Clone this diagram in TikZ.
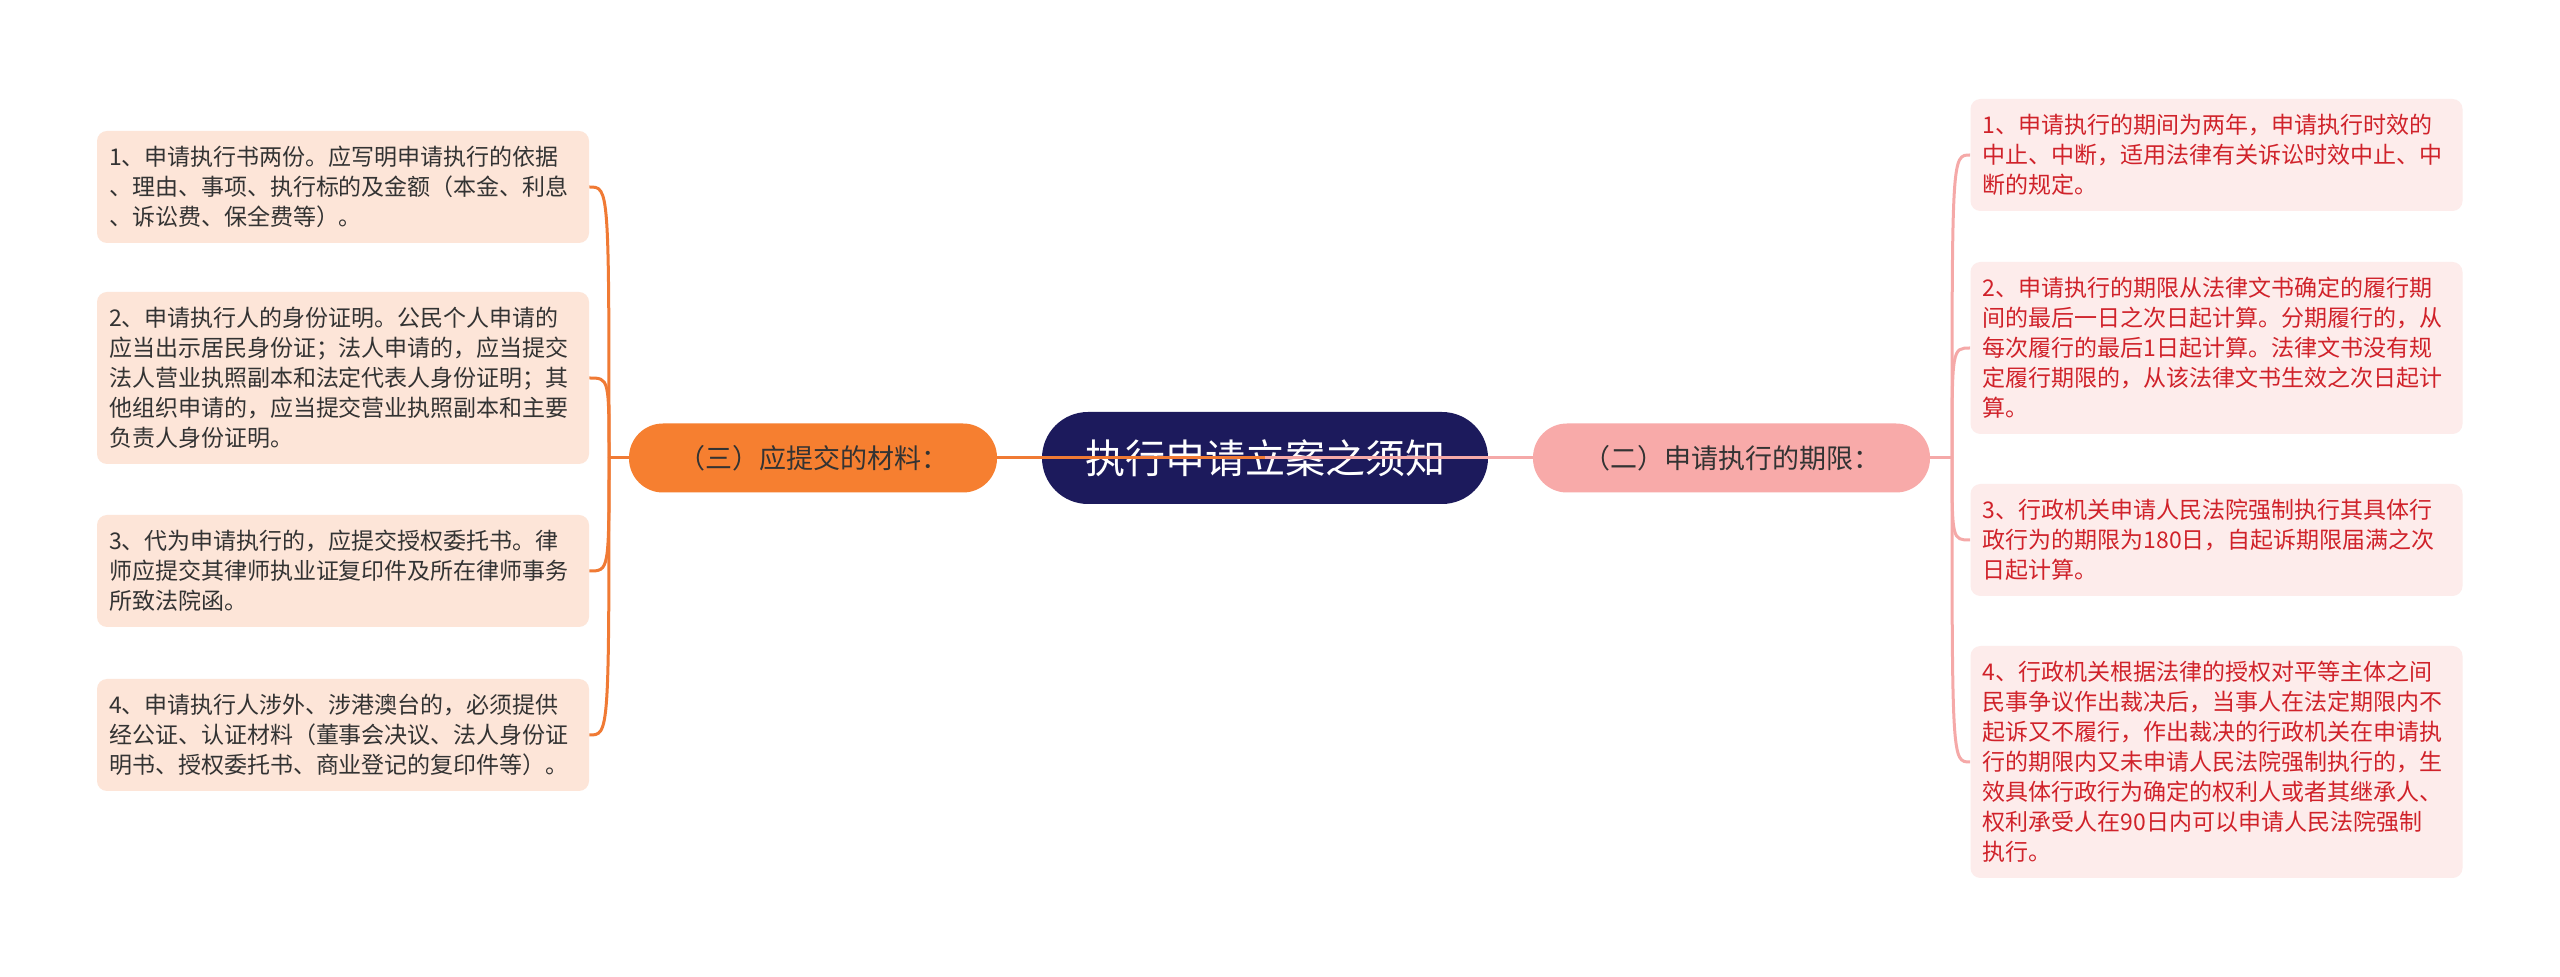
\documentclass[tikz,border=0pt]{standalone}
\usepackage{fontspec}
\setmainfont{Noto Sans CJK SC}
\newfontfamily\cjk{Noto Sans CJK SC}
\definecolor{navy}{HTML}{1C1A5C}
\definecolor{orangeb}{HTML}{F67F30}
\definecolor{pinkb}{HTML}{F8AAA9}
\definecolor{leafL}{HTML}{FDE5D8}
\definecolor{leafR}{HTML}{FDECEB}
\definecolor{lineO}{HTML}{F07A34}
\definecolor{lineP}{HTML}{F5A9A8}
\definecolor{redtext}{HTML}{D0222A}
\definecolor{darktext}{HTML}{333333}
\tikzset{
  leafbase/.style={anchor=center, align=left, text width=234pt, inner xsep=6pt, inner ysep=0pt,
     rounded corners=5pt, font=\cjk\fontsize{11.5pt}{15pt}\selectfont, minimum width=242.5pt},
  leftleaf/.style={leafbase, fill=leafL, text=darktext},
  rightleaf/.style={leafbase, fill=leafR, text=redtext},
  branchbox/.style={anchor=center, minimum height=34.5pt, rounded corners=17pt, inner sep=0pt,
     font=\cjk\fontsize{13.5pt}{16pt}\selectfont, text=darktext},
  centerbox/.style={anchor=center, minimum width=223pt, minimum height=46pt, rounded corners=23pt,
     inner sep=0pt, fill=navy, text=white, font=\cjk\fontsize{20pt}{24pt}\selectfont},
  oline/.style={draw=lineO, line width=1.5pt},
  pline/.style={draw=lineP, line width=1.5pt}
}
\begin{document}
\begin{tikzpicture}[x=0.5pt,y=-0.5pt]
\useasboundingbox[fill=white] (0,0) rectangle (2560,977);
% center
\node[centerbox] (c) at (1265,458) {执行申请立案之须知};
% branches
\node[branchbox, fill=orangeb, minimum width=184pt] (lb) at (813,458) {（三）应提交的材料：};
\node[branchbox, fill=pinkb, minimum width=198.5pt] (rb) at (1731.5,458) {（二）申请执行的期限：};
% left leaves
\node[leftleaf, minimum height=56pt] (l1) at (343,187) {1、申请执行书两份。应写明申请执行的依据\\、理由、事项、执行标的及金额（本金、利息\\、诉讼费、保全费等）。};
\node[leftleaf, minimum height=86pt] (l2) at (343,378) {2、申请执行人的身份证明。公民个人申请的\\应当出示居民身份证；法人申请的，应当提交\\法人营业执照副本和法定代表人身份证明；其\\他组织申请的，应当提交营业执照副本和主要\\负责人身份证明。};
\node[leftleaf, minimum height=56pt] (l3) at (343,571) {3、代为申请执行的，应提交授权委托书。律\\师应提交其律师执业证复印件及所在律师事务\\所致法院函。};
\node[leftleaf, minimum height=56pt] (l4) at (343,735) {4、申请执行人涉外、涉港澳台的，必须提供\\经公证、认证材料（董事会决议、法人身份证\\明书、授权委托书、商业登记的复印件等）。};
% right leaves
\node[rightleaf, minimum height=56pt] (r1) at (2216.5,155) {1、申请执行的期间为两年，申请执行时效的\\中止、中断，适用法律有关诉讼时效中止、中\\断的规定。};
\node[rightleaf, minimum height=86pt] (r2) at (2216.5,348) {2、申请执行的期限从法律文书确定的履行期\\间的最后一日之次日起计算。分期履行的，从\\每次履行的最后1日起计算。法律文书没有规\\定履行期限的，从该法律文书生效之次日起计\\算。};
\node[rightleaf, minimum height=56pt] (r3) at (2216.5,540) {3、行政机关申请人民法院强制执行其具体行\\政行为的期限为180日，自起诉期限届满之次\\日起计算。};
\node[rightleaf, minimum height=116pt] (r4) at (2216.5,762) {4、行政机关根据法律的授权对平等主体之间\\民事争议作出裁决后，当事人在法定期限内不\\起诉又不履行，作出裁决的行政机关在申请执\\行的期限内又未申请人民法院强制执行的，生\\效具体行政行为确定的权利人或者其继承人、\\权利承受人在90日内可以申请人民法院强制\\执行。};
% trunks
\coordinate (tL) at (609,458);
\coordinate (tR) at (1952,458);
% connectors
\draw[oline] (lb.east) -- (c.center);
\draw[pline] (c.center) -- (rb.west);
\draw[oline] (lb.west) -- (tL);
\draw[pline] (rb.east) -- (tR);
\foreach \n in {l1,l2,l3,l4}{
  \draw[oline] (tL) .. controls (tL |- \n.east) .. (\n.east);
}
\foreach \n in {r1,r2,r3,r4}{
  \draw[pline] (tR) .. controls (tR |- \n.west) .. (\n.west);
}
\end{tikzpicture}
\end{document}
